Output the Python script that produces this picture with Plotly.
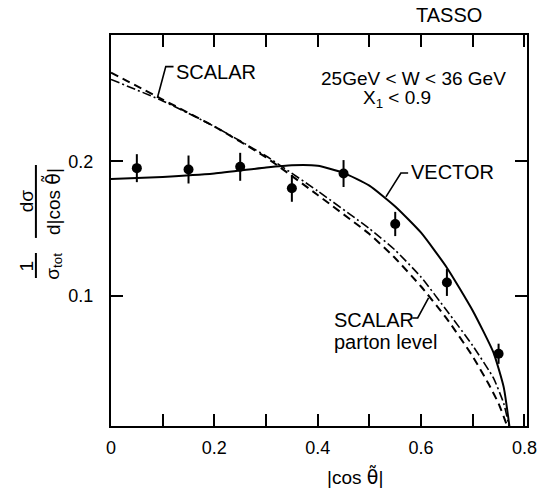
import plotly.graph_objects as go

# ---- data ----
pt_x = [0.05, 0.15, 0.25, 0.35, 0.45, 0.55, 0.65, 0.75]
pt_y = [0.195, 0.194, 0.196, 0.180, 0.191, 0.1535, 0.110, 0.057]
pt_err = [0.0104, 0.0104, 0.0104, 0.010, 0.010, 0.009, 0.010, 0.0075]

vec_x = [0.0, 0.1, 0.2, 0.3, 0.35, 0.40, 0.45, 0.50, 0.55, 0.60, 0.65, 0.70, 0.74, 0.76, 0.772]
vec_y = [0.187, 0.1885, 0.191, 0.1955, 0.1972, 0.1968, 0.1915, 0.182, 0.1665, 0.147, 0.121, 0.089, 0.058, 0.032, 0.0]

sca_x = [0.0, 0.1, 0.2, 0.3, 0.4, 0.5, 0.55, 0.6, 0.65, 0.7, 0.73, 0.75, 0.765, 0.769]
sca_y = [0.266, 0.246, 0.226, 0.203, 0.175, 0.146, 0.128, 0.107, 0.083, 0.055, 0.035, 0.020, 0.005, 0.0]

par_x = [0.0, 0.1, 0.2, 0.3, 0.4, 0.5, 0.55, 0.6, 0.65, 0.7, 0.74, 0.76, 0.772]
par_y = [0.261, 0.245, 0.226, 0.204, 0.178, 0.150, 0.134, 0.114, 0.089, 0.063, 0.039, 0.020, 0.0]

x_tickvals = [0, 0.1, 0.2, 0.3, 0.4, 0.5, 0.6, 0.7, 0.8]
x_ticktext = ["0", " ", "0.2", " ", "0.4", " ", "0.6", " ", "0.8"]
y_tickvals = [0.1, 0.2]
y_ticktext = ["0.1", "0.2"]

FONT = "Liberation Sans, Arial, DejaVu Sans, sans-serif"
THETA = "<span style='font-family:DejaVu Sans'>θ̃</span>"

fig = go.Figure()
fig.add_trace(go.Scatter(x=sca_x, y=sca_y, mode="lines",
                         line=dict(color="black", width=2, dash="8px,5px", shape="spline", smoothing=0.5),
                         showlegend=False, hoverinfo="skip"))
fig.add_trace(go.Scatter(x=par_x, y=par_y, mode="lines",
                         line=dict(color="black", width=1.6, dash="9px,3px,2px,3px", shape="spline", smoothing=0.5),
                         showlegend=False, hoverinfo="skip"))
fig.add_trace(go.Scatter(x=vec_x, y=vec_y, mode="lines",
                         line=dict(color="black", width=2, shape="spline", smoothing=0.5),
                         showlegend=False, hoverinfo="skip"))
fig.add_trace(go.Scatter(x=pt_x, y=pt_y, mode="markers",
                         marker=dict(color="black", size=10),
                         error_y=dict(type="data", array=pt_err, color="black", thickness=2, width=0),
                         showlegend=False))

axis_common = dict(showline=True, linecolor="black", linewidth=2, mirror="ticks",
                   ticks="inside", ticklen=12, tickwidth=2, tickcolor="black",
                   showgrid=False, zeroline=False,
                   tickfont=dict(family=FONT, size=18, color="black"))

fig.update_xaxes(range=[0, 0.805], tickmode="array", tickvals=x_tickvals, ticktext=x_ticktext,
                 ticklabelstandoff=4, **axis_common)
fig.update_yaxes(range=[0.0033, 0.294], tickmode="array", tickvals=y_tickvals, ticktext=y_ticktext,
                 ticklabelstandoff=12, **axis_common)

def txt(x, y, s, size=20, xanchor="left", xref="x", yref="y", angle=0):
    fig.add_annotation(x=x, y=y, xref=xref, yref=yref, text=s, showarrow=False,
                       xanchor=xanchor, yanchor="middle", textangle=angle,
                       font=dict(family=FONT, size=size, color="black"))

# labels
txt(0.6546, 1.05, "TASSO", size=20, xanchor="center", yref="paper")
txt(0.122, 0.2662, "SCALAR", size=20)
txt(0.586, 0.2613, "25GeV &lt; W &lt; 36 GeV", size=19, xanchor="center")
txt(0.553, 0.2465, "X<sub>1</sub> &lt; 0.9", size=19, xanchor="center")
txt(0.5763, 0.1918, "VECTOR", size=20)
txt(0.4275, 0.0822, "SCALAR", size=20)
txt(0.4275, 0.0658, "parton level", size=20)

# leader lines
for path in ["M 0.0897,0.2472 L 0.106,0.2705 L 0.121,0.2705",
             "M 0.532,0.1736 L 0.561,0.1914 L 0.575,0.1914",
             "M 0.6145,0.0985 L 0.5935,0.0836 L 0.583,0.0836"]:
    fig.add_shape(type="path", path=path, xref="x", yref="y", line=dict(color="black", width=1.6))

# x title
fig.add_annotation(x=(357 - 111) / 419, y=-0.128, xref="paper", yref="paper",
                   text="|cos " + THETA + "|", showarrow=False, xanchor="center", yanchor="middle",
                   font=dict(family=FONT, size=19, color="black"))

# y title as stacked fractions (rotated)
txt(-0.204, 0.575, "dσ", size=19, xanchor="center", xref="paper", yref="paper", angle=-90)
txt(-0.142, 0.575, "d|cos " + THETA + "|", size=19, xanchor="center", xref="paper", yref="paper", angle=-90)
fig.add_shape(type="line", xref="paper", yref="paper", x0=-0.1805, x1=-0.1805, y0=0.481, y1=0.6675,
              line=dict(color="black", width=2))
txt(-0.204, 0.408, "1", size=19, xanchor="center", xref="paper", yref="paper", angle=-90)
txt(-0.138, 0.409, "σ<sub>tot</sub>", size=19, xanchor="center", xref="paper", yref="paper", angle=-90)
fig.add_shape(type="line", xref="paper", yref="paper", x0=-0.1805, x1=-0.1805, y0=0.3785, y1=0.4425,
              line=dict(color="black", width=2))

fig.update_layout(width=549, height=496, margin=dict(l=111, r=19, t=35, b=70),
                  paper_bgcolor="white", plot_bgcolor="white",
                  font=dict(family=FONT, color="black"))

fig.write_html("out.html", config={"displayModeBar": False},
               post_script="document.body.style.margin='0px';")
